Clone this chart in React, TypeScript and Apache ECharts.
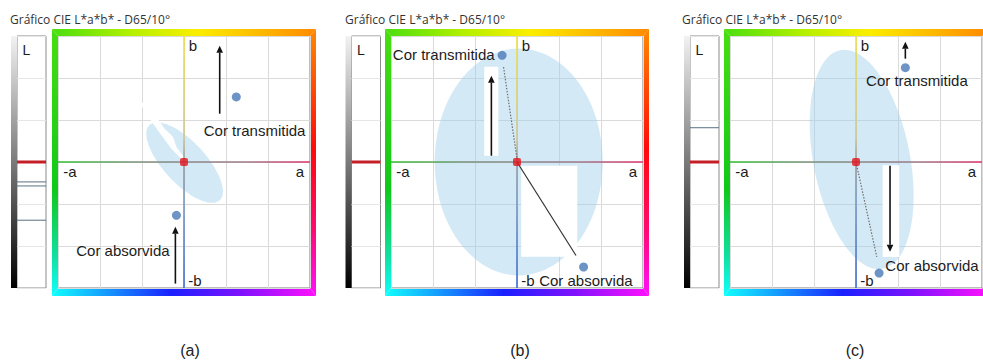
import React, { useEffect, useRef } from "react";
import * as echarts from "echarts";

// ---------------- data ----------------
const CAPTIONS = ["(a)", "(b)", "(c)"];
const TITLE = "Gráfico CIE L*a*b* - D65/10°";
const AXIS_LETTERS = ["b", "-a", "a", "-b"];
const AXIS_LETTER_AT: number[][] = [[4.2, 55.3], [-54.3, -4.6], [55.2, -4.6], [5.2, -56.3]];
const L_LETTER = "L";

// a*, b* of the two colours in each panel
const TRANSMITTED: number[][] = [[24.9, 31.0], [-7.1, 50.8], [23.5, 44.9]];
const ABSORBED: number[][] = [[-3.6, -25.4], [31.7, -50.0], [11.0, -52.9]];
const NEUTRAL: number[] = [0, 0];
// centre a*, centre b*, semi-major, semi-minor, angle (deg)
const SPREAD_ELLIPSE: number[][] = [
  [0.3, -0.3, 24.5, 10.0, -47],
  [0.8, 0.0, 40.0, 54.0, 0],
  [2.7, 1.2, 53.0, 23.0, 101],
];
// lightness markers on the L bar
const L_MAIN: number[] = [50, 50, 50];
const L_EXTRA: number[][] = [[42.1, 40.5, 26.9], [], [63.6]];

const TEXT_LABELS = ["Cor transmitida", "Cor absorvida"];
const TEXT_AT: number[][][] = [
  [[33.6, 14.9], [-29.1, -42.1]],
  [[-34.9, 51.4], [32.8, -56.3]],
  [[29.0, 38.7], [36.2, -49.2]],
];
// arrows: from a*, from b*, to a*, to b*
const ARROWS: number[][][] = [
  [[17.0, 23.0, 17.0, 55.4], [-4.1, -57.9, -4.1, -30.8]],
  [[-12.2, 3.0, -12.2, 41.1]],
  [[23.5, 49.2, 23.5, 57.3], [16.2, -1.8, 16.2, -42.7]],
];
// guide lines: from a*, from b*, to a*, to b*, dotted flag
const GUIDES: number[][][] = [
  [],
  [[-6.4, 45.2, 0, 1.5, 1], [0, 0, 28.1, -44.5, 0]],
  [[0, 0, 9.9, -45.2, 1]],
];
// erased (white) patches, polygons in a*b* units
const PATCHES: number[][][][] = [
  [[[-21.0, 28.2], [-17.1, 21.4], [-12.4, 15.0], [-8.4, 9.5], [-6.0, 6.3], [-2.9, 3.1], [-1.1, 1.1],
    [-0.1, 2.5], [-3.6, 7.1], [-5.2, 11.9], [-9.2, 15.8], [-13.1, 21.4], [-17.7, 28.2]]],
  [[[-15.6, 45.4], [-8.9, 45.4], [-8.9, 3.0], [-15.6, 3.0]],
   [[2.0, -1.8], [28.7, -1.8], [28.7, -45.1], [2.0, -45.1]]],
  [[[12.7, -1.6], [20.6, -1.6], [20.6, -45.2], [12.7, -45.2]]],
];

// ---------------- layout ----------------
const INNER_LEFT = [58, 391, 730];
const L_LEFT = [17, 351.5, 690];
const TITLE_X = [10, 345, 682];
const CAPTION_X = [190, 520, 855];
const TOP = 36;
const SIZE = 252;
const L_W = 29;
const STRIP_W = 6;
const FONT = '"Liberation Sans", Arial, sans-serif';

function frame(i: number): any[] {
  const iL = INNER_LEFT[i], iR = INNER_LEFT[i] + SIZE, iT = TOP, iB = TOP + SIZE;
  const oL = iL - 6, oR = iR + 6, oT = iT - 7, oB = iB + 8;
  const G = (x0: number, y0: number, x1: number, y1: number, stops: [number, string][]) =>
    new echarts.graphic.LinearGradient(x0, y0, x1, y1, stops.map(([offset, color]) => ({ offset, color })));
  return [
    { type: "polygon", shape: { points: [[oL, oT], [oR, oT], [iR, iT], [iL, iT]] },
      style: { fill: G(0, 0, 1, 0, [[0, "#4ade10"], [0.3, "#b4f000"], [0.55, "#fbee00"], [1, "#ff8a00"]]) } },
    { type: "polygon", shape: { points: [[oR, oT], [oR, oB], [iR, iB], [iR, iT]] },
      style: { fill: G(0, 0, 0, 1, [[0, "#ff8a00"], [0.45, "#ff0a0a"], [0.75, "#ff0a70"], [1, "#ff10ff"]]) } },
    { type: "polygon", shape: { points: [[oL, oB], [oR, oB], [iR, iB], [iL, iB]] },
      style: { fill: G(0, 0, 1, 0, [[0, "#10ffff"], [0.45, "#1a20ff"], [0.72, "#8010ff"], [1, "#ff10ff"]]) } },
    { type: "polygon", shape: { points: [[oL, oT], [oL, oB], [iL, iB], [iL, iT]] },
      style: { fill: G(0, 0, 0, 1, [[0, "#4ade10"], [0.6, "#10c81a"], [0.85, "#10e0a0"], [1, "#10ffff"]]) } },
  ];
}

function buildOption(): any {
  const grid: any[] = [], xAxis: any[] = [], yAxis: any[] = [], series: any[] = [], graphic: any[] = [];
  const splitAxis = (gi: number) => ({
    gridIndex: gi, type: "value", min: -60, max: 60, interval: 20,
    axisLine: { show: false }, axisTick: { show: false }, axisLabel: { show: false },
    splitLine: { show: true, lineStyle: { color: "#dadada", width: 1 } },
  });
  for (let i = 0; i < 3; i++) {
    const gm = 2 * i, gl = 2 * i + 1;
    grid.push({ left: INNER_LEFT[i], top: TOP, width: SIZE, height: SIZE, show: true,
      borderColor: "#7c7c7c", borderWidth: 1, backgroundColor: "#ffffff" });
    grid.push({ left: L_LEFT[i], top: TOP, width: L_W, height: SIZE, show: true,
      borderColor: "#8a8a8a", borderWidth: 1, backgroundColor: "#ffffff" });
    xAxis.push(splitAxis(gm));
    yAxis.push(splitAxis(gm));
    xAxis.push({ gridIndex: gl, type: "value", min: 0, max: 1, axisLine: { show: false },
      axisTick: { show: false }, axisLabel: { show: false }, splitLine: { show: false } });
    yAxis.push({ gridIndex: gl, type: "value", min: 0, max: 100, interval: 100 / 6,
      axisLine: { show: false }, axisTick: { show: false }, axisLabel: { show: false },
      splitLine: { show: true, lineStyle: { color: "#e6e6e6", width: 1 } } });

    const on = { xAxisIndex: gm, yAxisIndex: gm };

    // spread ellipse
    series.push({ type: "custom", ...on, z: 2, silent: true, data: [SPREAD_ELLIPSE[i]],
      renderItem: (_p: any, api: any) => {
        const ca = api.value(0), cb = api.value(1), A = api.value(2), B = api.value(3);
        const ang = (api.value(4) * Math.PI) / 180;
        const pts: number[][] = [];
        for (let k = 0; k < 96; k++) {
          const t = (k / 96) * Math.PI * 2;
          const x = A * Math.cos(t), y = B * Math.sin(t);
          pts.push(api.coord([ca + x * Math.cos(ang) - y * Math.sin(ang), cb + x * Math.sin(ang) + y * Math.cos(ang)]));
        }
        return { type: "polygon", shape: { points: pts }, style: { fill: "rgba(160,207,234,0.45)" } };
      } });

    // white (erased) patches
    series.push({ type: "custom", ...on, z: 3, silent: true, data: PATCHES[i].map((_, k) => [k]),
      renderItem: (p: any, api: any) => ({
        type: "polygon", shape: { points: PATCHES[i][p.dataIndex].map((q) => api.coord(q)) },
        style: { fill: "#ffffff" } }) });

    // coloured centre axes
    series.push({ type: "custom", ...on, z: 4, silent: true, data: [NEUTRAL],
      renderItem: (_p: any, api: any) => {
        const l = api.coord([-60, 0]), r = api.coord([60, 0]), t = api.coord([0, 60]), b = api.coord([0, -60]);
        return { type: "group", children: [
          { type: "rect", shape: { x: l[0], y: l[1] - 0.8, width: r[0] - l[0], height: 1.6 },
            style: { fill: new echarts.graphic.LinearGradient(0, 0, 1, 0, [
              { offset: 0, color: "#2fbf2f" }, { offset: 0.3, color: "#7a927a" }, { offset: 0.5, color: "#8a8a8a" },
              { offset: 0.75, color: "#a07888" }, { offset: 1, color: "#e0306a" }]) } },
          { type: "rect", shape: { x: t[0] - 0.8, y: t[1], width: 1.6, height: b[1] - t[1] },
            style: { fill: new echarts.graphic.LinearGradient(0, 0, 0, 1, [
              { offset: 0, color: "#f0e040" }, { offset: 0.4, color: "#cfc890" }, { offset: 0.5, color: "#9a9a9a" },
              { offset: 0.65, color: "#7a98c0" }, { offset: 1, color: "#3a6ad0" }]) } },
        ] };
      } });

    // guide lines
    series.push({ type: "custom", ...on, z: 5, silent: true, data: GUIDES[i],
      renderItem: (_p: any, api: any) => {
        const a = api.coord([api.value(0), api.value(1)]), b = api.coord([api.value(2), api.value(3)]);
        const dotted = api.value(4) === 1;
        return { type: "line", shape: { x1: a[0], y1: a[1], x2: b[0], y2: b[1] },
          style: dotted ? { stroke: "#6f6f6f", lineWidth: 1.2, lineDash: [1.5, 1.5] } : { stroke: "#333333", lineWidth: 1.2 } };
      } });

    // arrows
    series.push({ type: "custom", ...on, z: 6, silent: true, data: ARROWS[i],
      renderItem: (_p: any, api: any) => {
        const p0 = api.coord([api.value(0), api.value(1)]), p1 = api.coord([api.value(2), api.value(3)]);
        const dx = p1[0] - p0[0], dy = p1[1] - p0[1], len = Math.hypot(dx, dy) || 1;
        const ux = dx / len, uy = dy / len, hl = 7, hw = 3.3;
        const bx = p1[0] - ux * hl, by = p1[1] - uy * hl;
        return { type: "group", children: [
          { type: "line", shape: { x1: p0[0], y1: p0[1], x2: bx, y2: by }, style: { stroke: "#111", lineWidth: 1.6 } },
          { type: "polygon", shape: { points: [p1, [bx - uy * hw, by + ux * hw], [bx + uy * hw, by - ux * hw]] },
            style: { fill: "#111" } },
        ] };
      } });

    // colour points
    series.push({ type: "scatter", ...on, z: 7, silent: true, symbol: "circle", symbolSize: 9,
      itemStyle: { color: "#4a78b6" }, data: [TRANSMITTED[i], ABSORBED[i]] });
    // neutral point
    series.push({ type: "scatter", ...on, z: 8, silent: true, symbol: "roundRect", symbolSize: 8,
      itemStyle: { color: "#e3141c" }, data: [NEUTRAL] });

    // text labels
    series.push({ type: "custom", ...on, z: 9, silent: true, data: TEXT_AT[i],
      renderItem: (p: any, api: any) => {
        const c = api.coord([api.value(0), api.value(1)]);
        return { type: "text", x: c[0], y: c[1], style: { text: TEXT_LABELS[p.dataIndex], fill: "#1c1c1c",
          fontSize: 15, fontFamily: FONT, align: "center", verticalAlign: "middle" } };
      } });
    series.push({ type: "custom", ...on, z: 9, silent: true, data: AXIS_LETTER_AT,
      renderItem: (p: any, api: any) => {
        const c = api.coord([api.value(0), api.value(1)]);
        return { type: "text", x: c[0], y: c[1], style: { text: AXIS_LETTERS[p.dataIndex], fill: "#1c1c1c",
          fontSize: 15, fontFamily: FONT, align: "center", verticalAlign: "middle" } };
      } });

    // L bar markers
    const lData = [[L_MAIN[i], 1], ...L_EXTRA[i].map((v) => [v, 0])];
    series.push({ type: "custom", xAxisIndex: gl, yAxisIndex: gl, z: 5, silent: true, data: lData,
      renderItem: (_p: any, api: any) => {
        const L = api.value(0), main = api.value(1) === 1;
        const a = api.coord([0, L]), b = api.coord([1, L]);
        return { type: "line", shape: { x1: a[0], y1: a[1], x2: b[0], y2: b[1] },
          style: main ? { stroke: "#c41e26", lineWidth: 3 } : { stroke: "#587080", lineWidth: 1 } };
      } });

    // decorations
    graphic.push(...frame(i));
    graphic.push({ type: "rect", shape: { x: L_LEFT[i] - STRIP_W, y: TOP, width: STRIP_W, height: SIZE },
      style: { fill: new echarts.graphic.LinearGradient(0, 0, 0, 1, [
        { offset: 0, color: "#f2f2f2" }, { offset: 0.5, color: "#7a7a7a" }, { offset: 1, color: "#000000" }]) } });
    graphic.push({ type: "text", x: L_LEFT[i] + 9.3, y: 49.5, z: 100,
      style: { text: L_LETTER, fill: "#1c1c1c", fontSize: 14, fontFamily: FONT, align: "center", verticalAlign: "middle" } });
    graphic.push({ type: "text", x: TITLE_X[i], y: 19.5,
      style: { text: TITLE, fill: "#333333", fontSize: 12, fontFamily: '"Open Sans", sans-serif', verticalAlign: "middle" } });
    graphic.push({ type: "text", x: CAPTION_X[i], y: 350,
      style: { text: CAPTIONS[i], fill: "#222222", fontSize: 16, fontFamily: FONT, align: "center", verticalAlign: "middle" } });
  }
  return { animation: false, backgroundColor: "#ffffff", grid, xAxis, yAxis, series, graphic };
}

export default function App() {
  const ref = useRef<HTMLDivElement>(null);
  useEffect(() => {
    if (!ref.current) return;
    const chart = echarts.init(ref.current, undefined, { renderer: "svg" });
    chart.setOption(buildOption());
    return () => chart.dispose();
  }, []);
  return <div ref={ref} style={{ position: "absolute", left: 0, top: 0, width: 983, height: 361 }} />;
}
